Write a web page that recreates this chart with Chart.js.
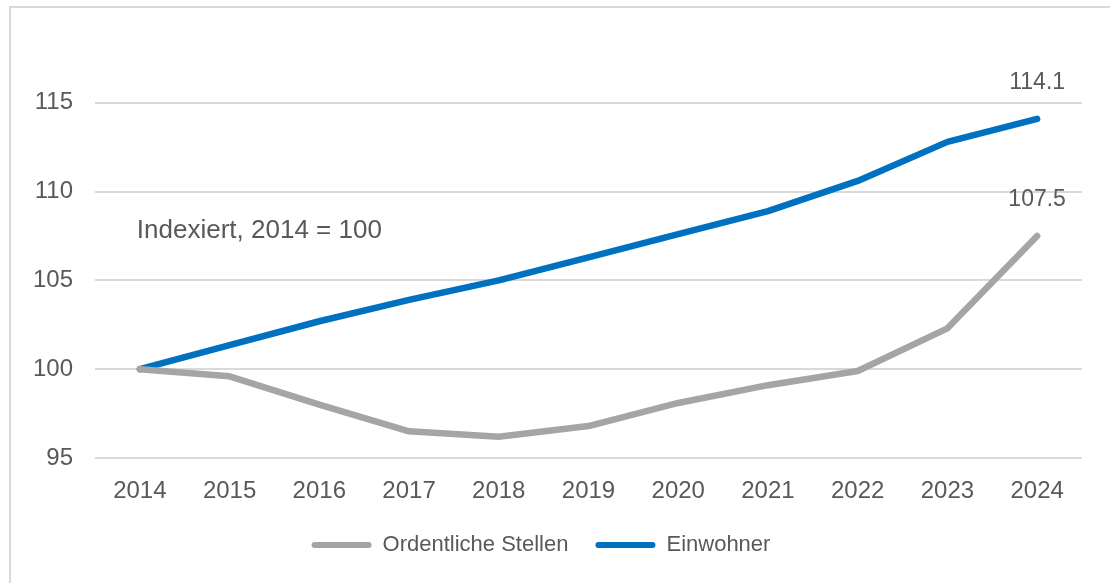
<!DOCTYPE html>
<html>
<head>
<meta charset="utf-8">
<script src="https://cdn.jsdelivr.net/npm/chart.js@4.4.1/dist/chart.umd.min.js"></script>
<style>
  html, body { margin: 0; padding: 0; background: #fff; }
  #wrap { position: relative; width: 1110px; height: 583px; overflow: hidden; }
  #frame { position: absolute; left: 9px; top: 6px; width: 1200px; height: 700px; border: 2px solid #d9d9d9; box-sizing: border-box; }
  canvas { position: absolute; left: 0; top: 0; }
</style>
</head>
<body>
<div id="wrap">
  <div id="frame"></div>
  <canvas id="chart" width="1110" height="583"></canvas>
</div>
<script>
// Indexiert, 2014 = 100
const years = ['2014', '2015', '2016', '2017', '2018', '2019', '2020', '2021', '2022', '2023', '2024'];
const stellen = [100, 99.6, 98.0, 96.5, 96.2, 96.8, 98.1, 99.1, 99.9, 102.3, 107.5];
const einwohner = [100, 101.35, 102.7, 103.9, 105.0, 106.3, 107.6, 108.9, 110.6, 112.8, 114.1];
const yTicks = [95, 100, 105, 110, 115];
const endLabels = ['107.5', '114.1'];
const note = 'Indexiert, 2014 = 100';

const textColor = '#595959';
const font = 'Liberation Sans, Arial, sans-serif';

// value labels at last point + the note inside the plot
const labelsPlugin = {
  id: 'labelsPlugin',
  afterDatasetsDraw(chart) {
    const ctx = chart.ctx;
    ctx.save();
    ctx.fillStyle = textColor;
    ctx.font = '23px ' + font;
    ctx.textAlign = 'center';
    ctx.textBaseline = 'middle';
    chart.data.datasets.forEach((ds, i) => {
      const meta = chart.getDatasetMeta(i);
      const pt = meta.data[meta.data.length - 1];
      ctx.fillText(endLabels[i], pt.x, pt.y - 36);
    });
    const x = chart.scales.x.getPixelForValue(0);
    const y = chart.scales.y.getPixelForValue(107.8);
    ctx.textAlign = 'left';
    ctx.font = '26px ' + font;
    ctx.fillText(note, x - 3, y);
    ctx.restore();
  }
};

new Chart(document.getElementById('chart'), {
  type: 'line',
  data: {
    labels: years,
    datasets: [
      { label: 'Ordentliche Stellen', data: stellen, borderColor: '#a5a5a5', backgroundColor: '#a5a5a5',
        borderWidth: 6.5, pointRadius: 0, tension: 0, borderCapStyle: 'round', borderJoinStyle: 'round' },
      { label: 'Einwohner', data: einwohner, borderColor: '#0070c0', backgroundColor: '#0070c0',
        borderWidth: 6.5, pointRadius: 0, tension: 0, borderCapStyle: 'round', borderJoinStyle: 'round' }
    ]
  },
  options: {
    responsive: false,
    animation: false,
    layout: { padding: { left: 0, right: 28, top: 14, bottom: 17 } },
    scales: {
      x: {
        offset: true,
        grid: { display: false },
        border: { display: false },
        ticks: { color: textColor, font: { family: font, size: 24 }, padding: 11, maxRotation: 0 },
        afterFit(scale) { scale.height = 49; }
      },
      y: {
        min: 95, max: 120,
        grid: { color: '#d9d9d9', lineWidth: 2, drawTicks: false },
        border: { display: false },
        ticks: { stepSize: 5, color: textColor, font: { family: font, size: 24 }, padding: 22 },
        afterBuildTicks(scale) { scale.ticks = yTicks.map(v => ({ value: v })); },
        afterFit(scale) { scale.width = 95; scale.paddingTop = 0; scale.paddingBottom = 0; }
      }
    },
    plugins: {
      tooltip: { enabled: false },
      legend: {
        position: 'bottom',
        labels: {
          color: textColor,
          font: { family: font, size: 22 },
          boxWidth: 60, boxHeight: 6, padding: 27,
          generateLabels(chart) {
            return chart.data.datasets.map((ds, i) => ({
              text: ds.label, fillStyle: ds.borderColor, strokeStyle: ds.borderColor,
              lineWidth: 0, borderRadius: 3, datasetIndex: i, fontColor: textColor
            }));
          }
        }
      }
    }
  },
  plugins: [labelsPlugin]
});
</script>
</body>
</html>
